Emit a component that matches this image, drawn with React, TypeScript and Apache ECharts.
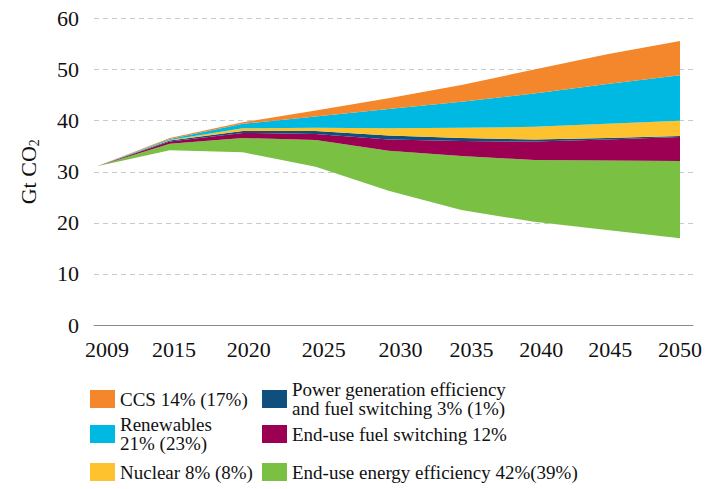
import React, { useEffect, useRef } from "react";
import * as echarts from "echarts";

const years = ["2009", "2015", "2020", "2025", "2030", "2035", "2040", "2045", "2050"];
const baseline = [31.1, 34.2, 33.8, 31.0, 26.3, 22.5, 20.2, 18.6, 17.0];
const endUseEfficiency = [0, 1.3, 2.8, 5.2, 7.8, 10.6, 12.1, 13.6, 15.1];
const endUseFuelSwitching = [0, 0.4, 1.0, 1.2, 2.2, 2.9, 3.6, 4.1, 4.7];
const powerGeneration = [0, 0.2, 0.4, 0.6, 0.8, 0.6, 0.4, 0.3, 0.2];
const nuclear = [0, 0.1, 0.5, 0.6, 1.4, 2.0, 2.5, 2.8, 3.0];
const renewables = [0, 0.2, 0.9, 2.2, 3.8, 5.1, 6.5, 7.8, 8.9];
const ccs = [0, 0.2, 0.3, 1.2, 2.1, 3.3, 4.7, 5.8, 6.7];
const yTicks = [0, 10, 20, 30, 40, 50, 60];

const F = '"Liberation Serif", "Times New Roman", serif';
const TXT = "#111111";

const labelShift = [10, 4, 6, 8, 12, 10, 7, 3, 0];

const layers = [
  { name: "End-use energy efficiency 42%(39%)", data: endUseEfficiency, color: "#7AC143" },
  { name: "End-use fuel switching 12%", data: endUseFuelSwitching, color: "#9B0053" },
  { name: "Power generation efficiency and fuel switching 3% (1%)", data: powerGeneration, color: "#0E4F7D" },
  { name: "Nuclear 8% (8%)", data: nuclear, color: "#FDC22D" },
  { name: "Renewables 21% (23%)", data: renewables, color: "#00B9E3" },
  { name: "CCS 14% (17%)", data: ccs, color: "#F4862B" },
];

const legendItems = [
  { name: "CCS 14% (17%)", label: "CCS 14% (17%)", left: 90, top: 389.5 },
  { name: "Renewables 21% (23%)", label: "Renewables\n21% (23%)", left: 90, top: 415 },
  { name: "Nuclear 8% (8%)", label: "Nuclear 8% (8%)", left: 90, top: 462.5 },
  {
    name: "Power generation efficiency and fuel switching 3% (1%)",
    label: "Power generation efficiency\nand fuel switching 3% (1%)",
    left: 262,
    top: 380,
  },
  { name: "End-use fuel switching 12%", label: "End-use fuel switching 12%", left: 262, top: 424.5 },
  { name: "End-use energy efficiency 42%(39%)", label: "End-use energy efficiency 42%(39%)", left: 262, top: 462.5 },
];

export default function App() {
  const ref = useRef<HTMLDivElement>(null);

  useEffect(() => {
    if (!ref.current) return;
    const chart = echarts.init(ref.current, null, { renderer: "svg" });

    const rich: Record<string, any> = {};
    labelShift.forEach((s, i) => {
      rich["p" + i] = { padding: [0, 0, 0, 2 * s], fontFamily: F, fontSize: 22, color: TXT };
    });

    const option: any = {
      animation: false,
      backgroundColor: "#ffffff",
      grid: [
        { left: 94, right: 12, top: 18.5, bottom: 164, outerBoundsMode: "none" },
        { left: 97, right: 25, top: 18.5, bottom: 164, outerBoundsMode: "none" },
      ],
      xAxis: [
        {
          gridIndex: 0,
          type: "value",
          min: 0,
          max: 1,
          axisLine: { show: true, lineStyle: { color: "#8a8a8a", width: 1 } },
          axisTick: { show: false },
          axisLabel: { show: false },
          splitLine: { show: false },
        },
        {
          gridIndex: 1,
          type: "category",
          data: years,
          boundaryGap: false,
          axisLine: { show: false },
          axisTick: { show: false },
          splitLine: { show: false },
          axisLabel: {
            margin: 13,
            interval: 0,
            fontFamily: F,
            fontSize: 22,
            color: TXT,
            formatter: (v: string, i: number) => `{p${i}|${v}}`,
            rich,
          },
        },
      ],
      yAxis: [
        {
          gridIndex: 0,
          type: "value",
          min: yTicks[0],
          max: yTicks[yTicks.length - 1],
          interval: 10,
          axisLine: { show: false },
          axisTick: { show: false },
          axisLabel: { fontFamily: F, fontSize: 22, color: TXT, margin: 15 },
          splitLine: { show: true, lineStyle: { type: [5, 4], color: "#c6c8d2", width: 1 } },
          name: "Gt CO{sub|2}",
          nameLocation: "middle",
          nameRotate: 90,
          nameGap: 53,
          nameTextStyle: {
            fontFamily: F,
            fontSize: 22,
            color: TXT,
            lineHeight: 26,
            rich: {
              sub: { fontFamily: F, fontSize: 14, color: TXT, verticalAlign: "bottom" },
            },
          },
        },
        { gridIndex: 1, type: "value", min: 0, max: 60, show: false },
      ],
      legend: legendItems.map((it) => ({
        data: [it.name],
        left: it.left,
        top: it.top,
        orient: "vertical",
        padding: 0,
        icon: "rect",
        itemWidth: 25,
        itemHeight: 18,
        selectedMode: false,
        formatter: () => it.label,
        textStyle: { fontFamily: F, fontSize: 19, color: TXT, lineHeight: 19 },
      })),
      series: [
        {
          name: "base",
          type: "line",
          xAxisIndex: 1,
          yAxisIndex: 1,
          stack: "total",
          data: baseline,
          symbol: "none",
          lineStyle: { width: 0 },
          silent: true,
        },
        ...layers.map((l) => ({
          name: l.name,
          type: "line",
          xAxisIndex: 1,
          yAxisIndex: 1,
          stack: "total",
          data: l.data,
          symbol: "none",
          lineStyle: { width: 0 },
          itemStyle: { color: l.color },
          areaStyle: { color: l.color, opacity: 1 },
        })),
      ],
    };

    chart.setOption(option);
    return () => chart.dispose();
  }, []);

  return (
    <div
      ref={ref}
      style={{ position: "absolute", left: 0, top: 0, width: 705, height: 489, background: "#fff" }}
    />
  );
}
